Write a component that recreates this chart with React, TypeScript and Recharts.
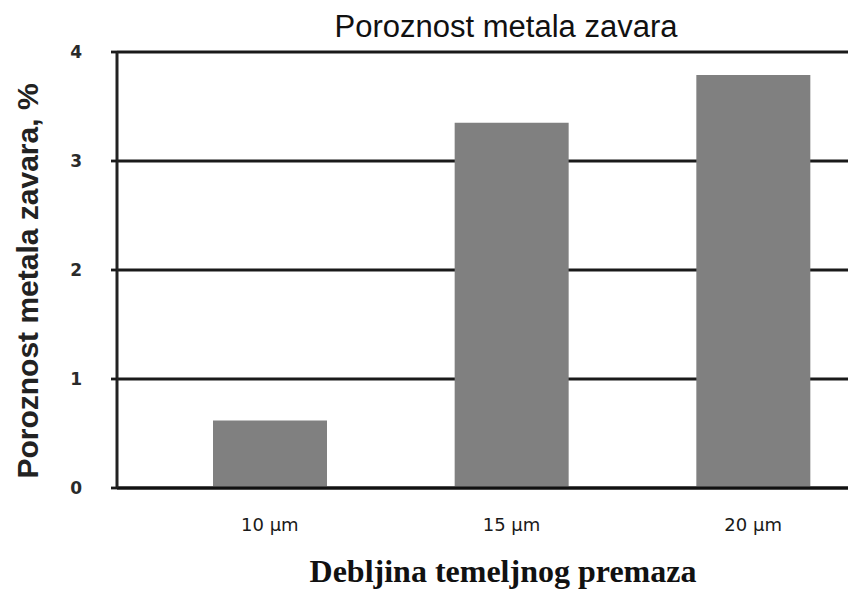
import { BarChart, Bar, XAxis, YAxis, CartesianGrid } from "recharts";

// thickness of the primer coat and weld metal porosity (%)
const categories = ["10 µm", "15 µm", "20 µm"];
const porosity = [0.62, 3.35, 3.79];
const yTicks = [0, 1, 2, 3, 4];

const data = categories.map((c, i) => ({ name: c, value: porosity[i] }));

const XTick = ({ x, y, payload }: any) => (
  <text
    x={x}
    y={y}
    dy={35}
    textAnchor="middle"
    fill="#1a1a1a"
    fontSize={18}
    fontFamily="DejaVu Sans"
  >
    {payload.value}
  </text>
);

export default function App() {
  return (
    <div
      style={{
        position: "absolute",
        left: 0,
        top: 0,
        width: 848,
        height: 591,
        overflow: "hidden",
        background: "#fff",
      }}
    >
      <BarChart
        width={874}
        height={591}
        data={data}
        margin={{ top: 52, right: 0, left: 0, bottom: 43 }}
      >
        <CartesianGrid
          vertical={false}
          stroke="#1a1a1a"
          strokeWidth={2.8}
        />
        <XAxis
          dataKey="name"
          height={60}
          padding={{ left: 32, right: 0 }}
          tickLine={false}
          axisLine={{ stroke: "#111", strokeWidth: 3 }}
          tick={<XTick />}
        />
        <YAxis
          width={117}
          domain={[0, 4]}
          ticks={yTicks}
          interval={0}
          tickSize={6}
          tickMargin={29}
          tickLine={{ stroke: "#1a1a1a", strokeWidth: 2.8 }}
          axisLine={{ stroke: "#222", strokeWidth: 3 }}
          tick={{
            fontSize: 17,
            fontFamily: "DejaVu Sans",
            fontWeight: "bold",
            fill: "#2a2a2a",
          }}
        />
        <Bar
          dataKey="value"
          fill="#808080"
          barSize={114}
          isAnimationActive={false}
        />
      </BarChart>
      <svg
        width={848}
        height={591}
        style={{ position: "absolute", left: 0, top: 0, pointerEvents: "none" }}
      >
        <text
          x={506}
          y={37}
          textAnchor="middle"
          fontSize={31}
          fontFamily="Liberation Sans, Arial, sans-serif"
          fill="#111"
        >
          Poroznost metala zavara
        </text>
        <text
          x={38}
          y={281}
          transform="rotate(-90, 38, 281)"
          textAnchor="middle"
          fontSize={30}
          fontWeight="bold"
          fontFamily="Liberation Sans, Arial, sans-serif"
          fill="#222"
        >
          Poroznost metala zavara, %
        </text>
        <text
          x={503}
          y={582}
          textAnchor="middle"
          fontSize={32}
          fontWeight="bold"
          fontFamily="Liberation Serif, Times New Roman, serif"
          fill="#111"
        >
          Debljina temeljnog premaza
        </text>
      </svg>
    </div>
  );
}
